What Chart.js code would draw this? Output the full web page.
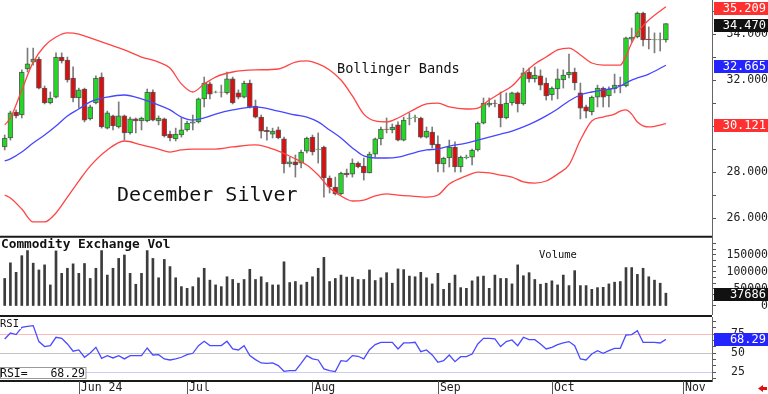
<!DOCTYPE html>
<html><head><meta charset="utf-8">
<script src="https://cdn.jsdelivr.net/npm/chart.js@4.4.1/dist/chart.umd.min.js"></script>
<style>
html,body{margin:0;padding:0;background:#fff;}
body{width:768px;height:394px;position:relative;overflow:hidden;}
.p{position:absolute;left:0;width:768px;}
</style></head><body>
<div class="p" style="top:0;height:238px"><canvas id="cp" width="768" height="238"></canvas></div>
<div class="p" style="top:238px;height:77px"><canvas id="cv" width="768" height="77"></canvas></div>
<div class="p" style="top:315px;height:79px"><canvas id="cr" width="768" height="79"></canvas></div>
<script>
// ---------- data (December Silver, daily sessions, index 0 = first session) ----------
const open = [29.11,29.50,30.63,30.50,32.50,32.80,32.93,31.67,31.02,31.28,
 33.02,32.89,32.11,31.24,31.63,30.33,31.02,32.15,29.93,30.46,
 29.98,30.46,29.72,30.33,30.24,30.24,31.50,30.24,30.33,29.67,
 29.46,29.63,29.85,30.15,30.20,31.20,31.85,31.49,31.50,31.46,
 32.07,31.46,31.28,31.89,30.89,30.41,29.83,29.67,29.85,29.46,
 28.37,28.46,28.41,28.93,29.54,29.00,29.11,27.76,27.37,27.07,
 27.98,27.93,28.41,28.28,27.98,28.80,29.46,29.89,29.85,30.07,
 29.41,30.35,30.39,30.37,29.54,29.76,29.24,28.37,28.63,29.11,
 28.24,28.65,28.67,28.98,30.15,30.93,31.02,30.98,30.37,31.02,
 31.46,30.98,32.37,32.07,32.20,31.89,31.37,31.63,32.02,32.24,
 32.37,31.46,30.85,30.63,31.28,31.67,31.33,31.63,31.80,31.76,
 33.80,33.89,34.93,33.80,33.76,33.76,33.76];
const high = [29.63,30.67,30.72,32.46,33.41,33.41,33.02,31.76,31.50,33.20,
 33.20,33.02,32.59,31.67,31.67,30.93,32.20,32.33,30.67,30.50,
 31.07,30.50,30.41,30.37,30.41,31.63,31.59,30.46,30.37,29.80,
 29.93,30.37,30.24,30.50,31.24,32.15,31.93,31.54,31.80,32.37,
 32.15,31.59,31.98,32.02,31.15,30.50,29.98,29.93,29.98,29.54,
 28.67,28.76,28.98,29.54,29.63,29.72,29.15,27.85,27.80,28.02,
 28.15,28.59,28.46,28.63,28.89,29.50,29.98,30.37,30.11,30.20,
 30.41,30.59,30.50,30.41,29.98,29.98,29.59,28.67,29.41,29.33,
 28.72,28.76,29.02,30.20,31.24,31.24,31.15,31.50,31.46,31.50,
 31.50,32.54,32.54,32.59,32.46,32.11,31.72,32.50,32.46,33.15,
 32.54,31.89,30.93,31.33,31.80,31.72,31.72,32.28,32.15,33.89,
 34.28,34.98,34.98,34.33,34.07,34.07,34.47];
const low = [28.98,29.41,30.37,30.37,32.37,32.67,31.63,30.98,30.98,31.24,
 32.76,31.93,31.07,30.80,30.20,30.28,30.98,29.93,29.89,29.85,
 29.93,29.41,29.67,29.72,29.85,30.20,30.24,30.07,29.54,29.37,
 29.37,29.54,29.80,29.85,30.15,30.85,31.20,31.46,31.28,31.41,
 30.98,31.20,31.24,30.80,30.37,29.50,29.41,29.50,29.46,27.98,
 28.24,27.80,28.20,28.85,28.76,28.41,26.93,27.11,27.02,27.02,
 27.80,27.80,28.20,27.67,27.98,28.67,29.20,29.72,29.72,29.37,
 29.37,30.07,30.20,29.50,29.50,29.07,28.02,28.02,28.24,28.02,
 28.02,28.59,28.33,28.93,30.11,30.85,30.85,29.98,30.33,30.93,
 30.63,30.93,31.93,31.93,31.59,31.15,31.15,31.20,31.67,32.11,
 31.59,30.33,30.37,30.50,30.85,30.85,30.85,31.46,31.46,31.72,
 33.67,33.85,33.50,33.37,33.20,33.28,33.67];
const close = [29.50,30.59,30.46,32.37,32.72,32.93,31.67,31.02,31.24,33.02,
 32.85,32.02,31.24,31.59,30.28,30.85,32.11,29.98,30.59,30.02,
 30.46,29.72,30.33,30.24,30.37,31.50,30.28,30.37,29.59,29.50,
 29.67,29.85,30.15,30.20,31.20,31.89,31.41,31.50,31.49,32.07,
 31.02,31.28,31.89,30.85,30.41,29.80,29.78,29.80,29.50,28.37,
 28.46,28.33,28.89,29.50,28.89,29.02,27.76,27.37,27.07,27.98,
 27.89,28.41,28.24,27.98,28.80,29.46,29.89,29.87,29.98,29.41,
 30.28,30.37,30.41,29.54,29.80,29.20,28.37,28.63,29.11,28.24,
 28.67,28.67,28.98,30.15,31.02,31.02,31.00,30.37,31.02,31.46,
 30.98,32.33,32.07,32.24,31.80,31.33,31.67,32.07,32.24,32.37,
 31.89,30.80,30.67,31.28,31.67,31.28,31.63,31.80,31.78,33.85,
 33.89,34.93,33.76,33.78,33.78,33.78,34.47];
const volume = [81000,127000,99000,148000,163000,126000,106000,121000,62000,162000,
 96000,111000,124000,96000,125000,81000,111000,163000,91000,111000,
 140000,150000,96000,64000,96000,163000,140000,83000,137000,116000,
 83000,57000,52000,57000,83000,111000,76000,62000,57000,86000,
 78000,67000,78000,108000,78000,86000,69000,62000,62000,130000,
 69000,72000,62000,70000,86000,111000,143000,72000,81000,91000,
 85000,85000,78000,78000,106000,75000,83000,98000,67000,109000,
 107000,88000,86000,99000,83000,65000,96000,49000,67000,91000,
 54000,52000,74000,86000,88000,52000,91000,81000,81000,65000,
 121000,89000,98000,78000,64000,67000,74000,62000,91000,60000,
 104000,60000,60000,49000,54000,55000,65000,70000,72000,113000,
 113000,93000,111000,86000,76000,67000,37686];
const rsi = [68.9,76.8,74.6,84.2,85.5,86.4,65.4,58.8,60.1,71.1,
 69.7,62.3,52.7,54.4,44.8,50.4,57.9,43.4,46.9,43.9,
 46.9,42.6,46.9,46.9,46.9,57.0,47.8,48.2,42.6,41.2,
 42.6,44.8,48.2,50.0,60.1,65.8,60.1,60.1,60.1,65.8,
 55.7,54.4,60.1,46.9,41.7,37.3,36.8,37.3,33.8,26.3,
 27.2,27.2,36.8,46.9,42.6,41.2,29.4,27.2,25.9,40.4,
 39.5,46.9,46.1,42.6,54.8,61.4,64.5,64.5,64.5,55.7,
 63.6,63.6,64.5,52.2,54.4,47.8,38.2,40.4,47.8,39.0,
 45.6,45.6,49.1,62.3,69.7,69.7,68.9,58.8,65.4,67.5,
 60.1,71.1,68.0,68.0,62.3,55.7,57.9,61.4,63.6,65.4,
 60.1,42.6,41.2,49.1,53.5,50.0,53.5,56.6,56.6,74.1,
 74.6,79.8,64.5,64.5,64.5,63.6,68.29];
// Bollinger bands at these session indices
const bandIndex = [0,1,3,5,7,9,11,13,15,18,21,24,27,29,31,33,35,37,40,44,
 48,51,53,55,57,59,61,63,65,67,69,71,74,76,78,81,83,85,87,89,
 91,93,95,97,99,101,103,105,107,108,109,110,111,113,116];
const bandUpper = [30.07,30.37,31.59,32.80,33.50,33.89,34.07,34.02,33.85,33.59,
 33.33,33.02,32.80,32.54,31.85,31.50,31.85,32.15,32.37,32.46,
 32.50,32.80,32.85,32.72,32.46,32.02,31.33,30.54,30.24,30.20,
 30.37,30.63,30.98,31.02,30.85,30.76,30.80,31.15,31.46,31.76,
 32.28,32.72,33.02,33.33,33.41,33.11,32.76,32.67,32.67,32.67,
 33.07,33.63,34.07,34.63,35.209];
const bandMiddle = [28.50,28.59,28.89,29.28,29.63,30.02,30.46,30.76,31.07,31.28,
 31.37,31.20,30.93,30.72,30.41,30.28,30.37,30.54,30.72,30.85,
 30.67,30.50,30.41,30.20,29.85,29.50,29.07,28.72,28.63,28.63,
 28.67,28.80,28.98,29.02,29.15,29.28,29.41,29.54,29.67,29.80,
 29.98,30.20,30.46,30.76,31.11,31.37,31.50,31.59,31.67,31.76,
 31.89,32.02,32.11,32.28,32.665];
const bandLower = [27.02,26.89,26.41,25.85,25.85,26.24,26.93,27.63,28.28,28.98,
 29.37,29.20,29.02,28.89,28.98,29.02,29.02,29.02,29.11,29.20,
 28.93,28.59,28.33,27.89,27.33,26.98,26.76,26.80,26.98,27.07,
 27.02,26.98,26.93,27.02,27.50,27.85,28.02,27.98,27.89,27.80,
 27.59,27.54,27.63,27.93,28.33,29.41,30.24,30.41,30.54,30.67,
 30.72,30.54,30.20,29.98,30.121];
const monthTickIndex = [13,32,54,76,96,119];
const monthTickLabels = ['Jun 24','Jul','Aug','Sep','Oct','Nov'];
const rsiLevels = [75,50,25];
const rsiLevelColors = ['#ffb8b8','#c4c4c4','#ccccf6'];

// ---------- styling ----------
const MONO = "'DejaVu Sans Mono', monospace";
Chart.defaults.font.family = MONO;
Chart.defaults.color = '#222';
const GREEN = '#22d822', RED = '#d81010';
const idx = close.map((_, i) => i);
const last = a => a[a.length - 1];

function xScale(show) {
  return {
    type: 'linear', min: -0.825, max: 124.09, bounds: 'data', offset: false, display: show,
    grid: {display: false, drawTicks: false},
    border: {display: show, color: '#1a1a1a', width: 2},
    afterBuildTicks: s => { s.ticks = monthTickIndex.map(v => ({value: v})); },
    afterFit: s => { if (show) { s.height = 13; } s.paddingLeft = 0; s.paddingRight = 0; },
    ticks: {autoSkip: false, maxRotation: 0, minRotation: 0, align: 'start', labelOffset: 2, padding: 0,
      color: '#222', font: {size: 11.5},
      callback: v => { const k = monthTickIndex.indexOf(v); return k >= 0 ? monthTickLabels[k] : ''; }}
  };
}
function yScale(min, max, buildTicks, label, padding, crossAlign) {
  return {
    position: 'right', min, max, bounds: 'data', beginAtZero: false,
    grid: {drawOnChartArea: false, drawTicks: true, tickLength: 4, color: '#555'},
    border: {display: true, color: '#666', width: 1},
    afterBuildTicks: s => { s.ticks = buildTicks(s).map(v => ({value: v})); },
    afterFit: s => { s.width = 56; s.paddingTop = 0; s.paddingBottom = 0; },
    ticks: {autoSkip: false, padding, crossAlign, color: '#222', font: {size: 11.5}, callback: label}
  };
}
function valueBox(chart, scale, value, text, bg, dy) {
  const ctx = chart.ctx, x0 = chart.chartArea.right + 2, y = scale.getPixelForValue(value) + dy;
  ctx.fillStyle = bg;
  ctx.fillRect(x0, Math.round(y - 6.5), chart.width - x0, 13);
  ctx.fillStyle = '#fff';
  ctx.font = '12px ' + MONO;
  ctx.textAlign = 'right'; ctx.textBaseline = 'middle';
  ctx.fillText(text, chart.width - 2, y + 0.5);
}
const common = {responsive: false, animation: false, devicePixelRatio: 1, events: [],
  plugins: {legend: {display: false}, tooltip: {enabled: false}}};

// ---------- price panel ----------
const pricePlugin = {
  id: 'priceDeco',
  afterDraw(chart) {
    const {ctx, chartArea: a, scales: {x, y}} = chart;
    ctx.save();
    ctx.strokeStyle = '#1a1a1a'; ctx.lineWidth = 2;
    ctx.beginPath(); ctx.moveTo(a.left, a.bottom - 0.2); ctx.lineTo(a.right, a.bottom - 0.2); ctx.stroke();
    ctx.fillStyle = '#111'; ctx.textAlign = 'left'; ctx.textBaseline = 'alphabetic';
    ctx.font = '13.6px ' + MONO;
    ctx.fillText('Bollinger Bands', x.getPixelForValue(58.3), y.getPixelForValue(32.34));
    ctx.font = '20px ' + MONO;
    ctx.fillText('December Silver', x.getPixelForValue(19.7), y.getPixelForValue(26.77));
    valueBox(chart, y, last(bandLower), last(bandLower).toFixed(3), '#ff3030', 1.5);
    valueBox(chart, y, last(bandMiddle), last(bandMiddle).toFixed(3), '#2424ff', 1.5);
    valueBox(chart, y, last(bandUpper), last(bandUpper).toFixed(3), '#ff3030', 1.5);
    valueBox(chart, y, last(close), last(close).toFixed(3), '#111', 1.5);
    ctx.restore();
  }
};
const band = (vals, color) => ({type: 'line', order: 0,
  data: bandIndex.map((b, k) => ({x: b, y: vals[k]})),
  borderColor: color, borderWidth: 1.3, pointRadius: 0, cubicInterpolationMode: 'monotone', fill: false});
new Chart(document.getElementById('cp'), {
  type: 'bar',
  data: {datasets: [
    band(bandUpper, '#ff4444'), band(bandMiddle, '#4646ff'), band(bandLower, '#ff4444'),
    {order: 1, grouped: false, barThickness: 5,
     data: idx.map(i => ({x: i, y: [Math.min(open[i], close[i]), Math.max(open[i], close[i])]})),
     backgroundColor: idx.map(i => close[i] >= open[i] ? GREEN : RED),
     borderColor: 'rgba(45,45,45,0.75)', borderWidth: 1, borderSkipped: false},
    {order: 2, grouped: false, barThickness: 1,
     data: idx.map(i => ({x: i, y: [low[i], high[i]]})),
     backgroundColor: '#7c7c7c', borderWidth: 0}
  ]},
  options: Object.assign({}, common, {
    layout: {padding: {top: 0, bottom: 1, left: 0, right: 0}},
    scales: {
      x: xScale(false),
      y: yScale(25.1957, 35.5, s => { const t = []; for (let v = Math.ceil(s.min); v <= s.max; v++) t.push(v); return t; },
        v => (Math.round(v) % 2 === 0 ? v.toFixed(3) : ''), 8, 'far')
    }
  }),
  plugins: [pricePlugin]
});

// ---------- volume panel ----------
const VSTEP = 50000 / 3;
const volPlugin = {
  id: 'volDeco',
  afterDraw(chart) {
    const {ctx, scales: {y}} = chart;
    ctx.save();
    ctx.fillStyle = '#111'; ctx.textAlign = 'left'; ctx.textBaseline = 'alphabetic';
    ctx.font = 'bold 12.8px ' + MONO;
    ctx.fillText('Commodity Exchange Vol', 1, 9.7);
    ctx.font = '10.5px ' + MONO;
    ctx.fillText('Volume', 539, 19.7);
    valueBox(chart, y, last(volume), String(last(volume)), '#111', 1);
    ctx.restore();
  }
};
new Chart(document.getElementById('cv'), {
  type: 'bar',
  data: {datasets: [{barThickness: 2, data: idx.map(i => ({x: i, y: volume[i]})), backgroundColor: '#3c3c3c'}]},
  options: Object.assign({}, common, {
    layout: {padding: 0},
    scales: {
      x: xScale(false),
      y: yScale(-26470.6, 200000, s => { const t = []; for (let k = 0; k * VSTEP < s.max - 1; k++) t.push(k * VSTEP); return t; },
        v => (Math.abs(v / 50000 - Math.round(v / 50000)) < 1e-6 ? String(Math.round(v)) : ''), 8, 'far')
    }
  }),
  plugins: [volPlugin]
});

// ---------- RSI panel ----------
const RSTEP = 25 / 3;
const rsiPlugin = {
  id: 'rsiDeco',
  beforeDatasetsDraw(chart) {
    const {ctx, chartArea: a, scales: {y}} = chart;
    ctx.save(); ctx.lineWidth = 1;
    rsiLevels.forEach((lv, k) => {
      const py = Math.round(y.getPixelForValue(lv)) + 0.5;
      ctx.strokeStyle = rsiLevelColors[k];
      ctx.beginPath(); ctx.moveTo(a.left, py); ctx.lineTo(a.right, py); ctx.stroke();
    });
    ctx.restore();
  },
  afterDraw(chart) {
    const {ctx, chartArea: a, scales: {x, y}} = chart;
    ctx.save();
    ctx.strokeStyle = '#1a1a1a'; ctx.lineWidth = 2;
    ctx.beginPath(); ctx.moveTo(a.left, a.top - 1); ctx.lineTo(a.right, a.top - 1); ctx.stroke();
    ctx.strokeStyle = '#555'; ctx.lineWidth = 1;
    monthTickIndex.forEach(v => {
      const px = Math.round(x.getPixelForValue(v)) + 0.5;
      ctx.beginPath(); ctx.moveTo(px, a.bottom); ctx.lineTo(px, chart.height); ctx.stroke();
    });
    // RSI caption
    ctx.fillStyle = '#fff'; ctx.fillRect(0, 4, 21, 10);
    ctx.fillStyle = '#111'; ctx.font = '10.5px ' + MONO; ctx.textAlign = 'left'; ctx.textBaseline = 'alphabetic';
    ctx.fillText('RSI', 0, 12);
    // RSI= readout
    ctx.fillStyle = '#fff'; ctx.fillRect(0, 52.5, 86, 11);
    ctx.strokeStyle = '#999'; ctx.strokeRect(0.5, 52.5, 85.5, 11);
    ctx.fillStyle = '#111'; ctx.font = '11.5px ' + MONO;
    ctx.fillText('RSI=', 0, 61.5);
    ctx.textAlign = 'right'; ctx.fillText(last(rsi).toFixed(2), 85, 61.5);
    valueBox(chart, y, last(rsi), last(rsi).toFixed(2), '#2424ff', 0);
    // red arrow
    ctx.fillStyle = '#e01010';
    ctx.beginPath();
    ctx.moveTo(758, 73.5); ctx.lineTo(763, 70); ctx.lineTo(763, 72); ctx.lineTo(767, 72);
    ctx.lineTo(767, 75); ctx.lineTo(763, 75); ctx.lineTo(763, 77); ctx.closePath(); ctx.fill();
    ctx.restore();
  }
};
new Chart(document.getElementById('cr'), {
  type: 'line',
  data: {datasets: [{data: idx.map(i => ({x: i, y: rsi[i]})), borderColor: '#4a4aff', borderWidth: 1.3,
    pointRadius: 0, tension: 0, fill: false}]},
  options: Object.assign({}, common, {
    layout: {padding: {top: 2, bottom: 0, left: 0, right: 0}},
    scales: {
      x: xScale(true),
      y: yScale(13.55, 97.76, s => { const t = []; for (let k = Math.ceil(s.min / RSTEP); k * RSTEP <= s.max; k++) t.push(k * RSTEP); return t; },
        v => (Math.abs(v / 25 - Math.round(v / 25)) < 1e-6 ? String(Math.round(v)) : ''), 15, 'near')
    }
  }),
  plugins: [rsiPlugin]
});
</script>
</body></html>
